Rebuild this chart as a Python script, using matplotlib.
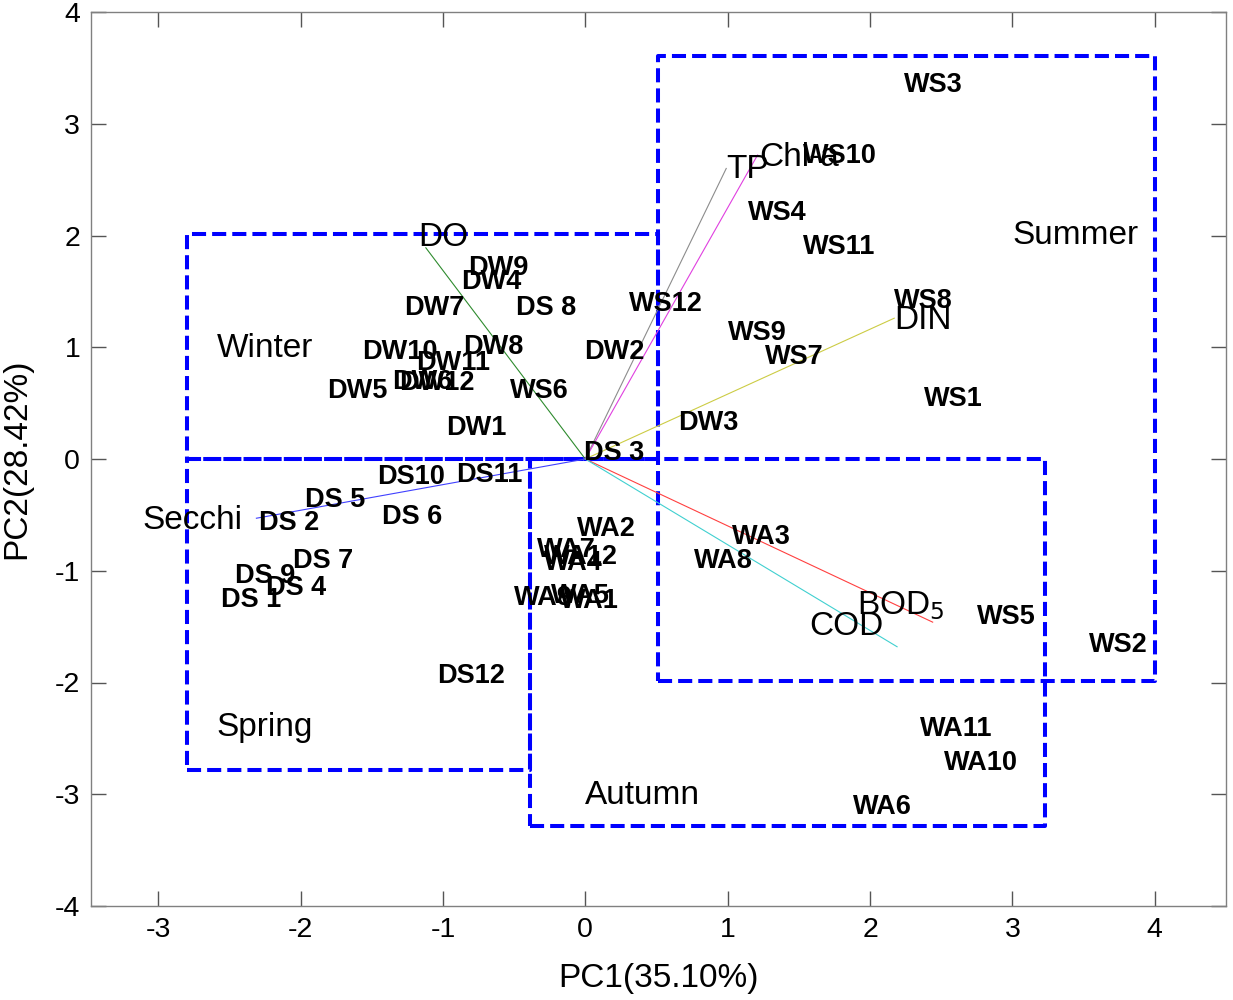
import numpy as np
import matplotlib
matplotlib.use("Agg")
import matplotlib.pyplot as plt

plt.rcParams['font.family'] = ['Liberation Sans', 'DejaVu Sans']
plt.rcParams['axes.unicode_minus'] = False

# sample scores (label anchor = left edge, vertically centred)
sample_names = ['WS3', 'WS10', 'WS4', 'WS11', 'WS12', 'WS8', 'WS9', 'WS7', 'WS1', 'WS6', 'WS5', 'WS2',
                'DW9', 'DW4', 'DW7', 'DS 8', 'DW10', 'DW11', 'DW8', 'DW2', 'DW6', 'DW12', 'DW5', 'DW1', 'DW3',
                'DS 3', 'DS10', 'DS11', 'DS 5', 'DS 2', 'DS 6', 'DS 7', 'DS 9', 'DS 4', 'DS 1', 'DS12',
                'WA2', 'WA3', 'WA8', 'WA7', 'WA4', 'WA12', 'WA9', 'WA5', 'WA1', 'WA11', 'WA10', 'WA6']
sample_pc1 = [2.24, 1.53, 1.14, 1.53, 0.31, 2.17, 1.00, 1.26, 2.38, -0.53, 2.75, 3.54,
              -0.82, -0.87, -1.27, -0.49, -1.57, -1.19, -0.86, -0.01, -1.36, -1.31, -1.81, -0.98, 0.65,
              -0.01, -1.46, -0.91, -1.97, -2.29, -1.43, -2.05, -2.46, -2.24, -2.56, -1.04,
              -0.06, 1.03, 0.76, -0.34, -0.29, -0.29, -0.50, -0.24, -0.18, 2.35, 2.52, 1.88]
sample_pc2 = [3.35, 2.71, 2.20, 1.90, 1.39, 1.41, 1.13, 0.91, 0.54, 0.61, -1.41, -1.66,
              1.71, 1.58, 1.35, 1.35, 0.96, 0.86, 1.00, 0.96, 0.69, 0.68, 0.61, 0.28, 0.32,
              0.05, -0.16, -0.14, -0.37, -0.57, -0.52, -0.91, -1.05, -1.15, -1.26, -1.94,
              -0.63, -0.70, -0.91, -0.81, -0.93, -0.88, -1.24, -1.23, -1.27, -2.42, -2.72, -3.11]

# variable loadings (vector tips) and label positions
var_names = ['DO', 'TP', 'Chl-a', 'DIN', 'Secchi', r'BOD$_5$', 'COD']
var_pc1 = [-1.12, 0.99, 1.21, 2.17, -2.31, 2.44, 2.19]
var_pc2 = [1.89, 2.60, 2.72, 1.26, -0.53, -1.46, -1.68]
var_lab_x = [-1.17, 0.99, 1.22, 2.17, -3.11, 1.91, 1.57]
var_lab_y = [1.98, 2.59, 2.70, 1.24, -0.55, -1.31, -1.50]
var_colors = ['#2e8b2e', '#8c8c8c', '#e040e0', '#cccc44', '#4040ff', '#ff4040', '#40d0d0']

# season boxes: x0, x1, y0, y1
season_names = ['Winter', 'Summer', 'Spring', 'Autumn']
box_x0 = [-2.80, 0.51, -2.80, -0.39]
box_x1 = [0.51, 4.00, -0.39, 3.23]
box_y0 = [0.00, -1.99, -2.78, -3.28]
box_y1 = [2.01, 3.61, 0.00, 0.00]
season_lab_x = [-2.59, 3.00, -2.59, 0.00]
season_lab_y = [0.99, 2.00, -2.40, -3.01]

fig = plt.figure(figsize=(12.33, 10), dpi=100)
ax = fig.add_axes([0.074, 0.094, 0.9203, 0.894])

for x0, x1, y0, y1 in zip(box_x0, box_x1, box_y0, box_y1):
    ax.plot([x0, x1, x1, x0, x0], [y0, y0, y1, y1, y0], color='#0000ff',
            lw=2.9, linestyle=(0, (3.5, 1.5)), solid_capstyle='butt', zorder=2)

for vx, vy, c in zip(var_pc1, var_pc2, var_colors):
    ax.plot([0, vx], [0, vy], color=c, lw=0.8, zorder=3)

for name, lx, ly in zip(var_names, var_lab_x, var_lab_y):
    ax.text(lx, ly, name, fontsize=24, ha='left', va='center', zorder=4)

for name, lx, ly in zip(season_names, season_lab_x, season_lab_y):
    ax.text(lx, ly, name, fontsize=24, ha='left', va='center', zorder=4)

for name, px, py in zip(sample_names, sample_pc1, sample_pc2):
    ax.text(px, py, name, fontsize=19.5, fontweight='bold', ha='left', va='center', zorder=5)

ax.set_xlim(-3.47, 4.5)
ax.set_ylim(-4, 4)
ax.set_xticks(np.arange(-3, 5, 1))
ax.set_yticks(np.arange(-4, 5, 1))
ax.tick_params(direction='in', length=11, width=1, color='#555555', labelsize=20.5,
               top=True, right=True, pad=8)
for s in ax.spines.values():
    s.set_color('#808080')
    s.set_linewidth(1)

ax.set_xlabel('PC1(35.10%)', fontsize=24)
ax.set_ylabel('PC2(28.42%)', fontsize=24)
ax.xaxis.set_label_coords(0.5, -0.064)
ax.yaxis.set_label_coords(-0.052, 0.5)

fig.savefig('out.png', dpi=100)
